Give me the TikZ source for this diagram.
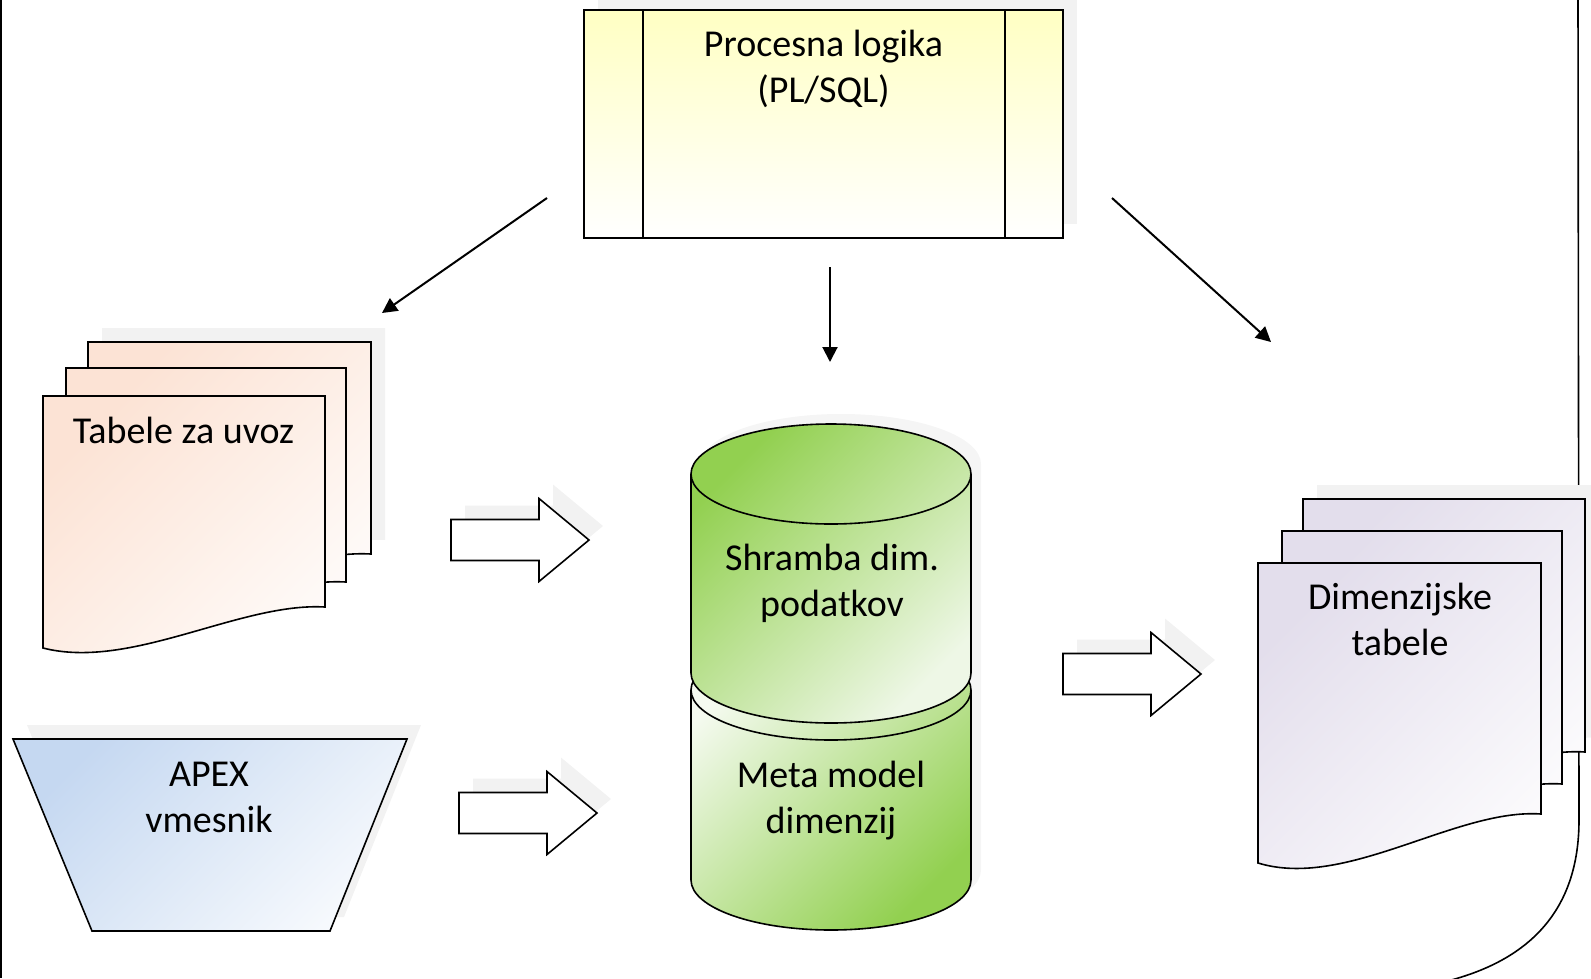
\documentclass[tikz,border=0pt]{standalone}
\usepackage{fontspec}
\setmainfont{Carlito}
\usetikzlibrary{arrows.meta,shadows}

\definecolor{procyellow}{RGB}{255,255,195}
\definecolor{tabpeach}{RGB}{252,227,213}
\definecolor{dimlavender}{RGB}{227,222,236}
\definecolor{apexblue}{RGB}{197,216,241}
\definecolor{dbgreen}{RGB}{146,208,80}
\definecolor{dbpale}{RGB}{238,247,230}

\tikzset{
  outline/.style={draw=black,line width=1.6pt},
  softshadow/.style={drop shadow={shadow xshift=14pt,shadow yshift=14pt,fill=black!5,opacity=1}},
  boxtext/.style={align=center,inner sep=0pt,font=\fontsize{38}{46}\selectfont},
  flow/.style={-{Triangle[length=15pt,width=15pt]},line width=2pt},
  tabfill/.style={top color=tabpeach,bottom color=tabpeach!20,shading angle=45},
  dimfill/.style={top color=dimlavender,bottom color=dimlavender!15,shading angle=45},
  blockarrow/.pic={
    \draw[outline,softshadow,fill=white] (0,-20.5) -- (88,-20.5) -- (88,-41.5) -- (138,0)
      -- (88,41.5) -- (88,20.5) -- (0,20.5) -- cycle;
  }
}

% one page of a stack: style, left, top, right, bottom right, drop of the wave
\newcommand{\docpage}[6]{%
  \draw[#1] (#2,#3) -- (#4,#3) -- (#4,#5)
    .. controls ({#4-85},{#5-0.12*#6}) and ({#2+88},{#5+1.55*#6}) .. (#2,{#5+#6}) -- cycle;}

\begin{document}
\begin{tikzpicture}[x=1pt,y=-1pt]
\useasboundingbox (0,0) rectangle (1591,978);

% frame
\draw[line width=1.6pt] (1,0) -- (1,978);
\draw[line width=1.6pt] (1578,0) -- (1579,820) .. controls (1579,910) and (1530,965) .. (1430,985);

% process logic
\node[outline,softshadow,top color=procyellow,bottom color=white,
      minimum width=479pt,minimum height=228pt] (proc) at (823.5,124) {};
\draw[line width=1.6pt] ([xshift=60pt]proc.north west) -- ([xshift=60pt]proc.south west);
\draw[line width=1.6pt] ([xshift=-59pt]proc.north east) -- ([xshift=-59pt]proc.south east);
\node[boxtext] (proctext) at (823.5,69) {Procesna logika\\(PL/SQL)};

% import tables
\docpage{outline,softshadow,tabfill}{88}{342}{371}{554}{41}
\docpage{outline,tabfill}{66}{368}{346}{582}{41}
\docpage{outline,tabfill}{43}{396}{325}{607}{41}
\node[boxtext] (tabele) at (183.5,430) {Tabele za uvoz};

% APEX
\draw[outline,softshadow,top color=apexblue,bottom color=apexblue!15,shading angle=45]
  (13,739) -- (407,739) -- (330,931) -- (92,931) -- cycle;
\node[boxtext] (apex) at (209,797) {APEX\\vmesnik};

% database
\begin{scope}[xshift=10pt,yshift=10pt]
  \fill[black!4] (691,474) -- (691,880) arc[start angle=180,end angle=0,x radius=140,y radius=50]
    -- (971,474) arc[start angle=0,end angle=-180,x radius=140,y radius=50] -- cycle;
\end{scope}
\draw[outline,top color=dbpale!60,bottom color=dbgreen,shading angle=45]
  (691,690) -- (691,880) arc[start angle=180,end angle=0,x radius=140,y radius=50]
  -- (971,690) arc[start angle=0,end angle=-180,x radius=140,y radius=50] -- cycle;
\draw[outline] (691,690) arc[start angle=180,end angle=0,x radius=140,y radius=50];
\draw[outline,top color=dbgreen,bottom color=dbpale,shading angle=45]
  (691,474) -- (691,673) arc[start angle=180,end angle=0,x radius=140,y radius=50]
  -- (971,474) arc[start angle=0,end angle=-180,x radius=140,y radius=50] -- cycle;
\draw[outline] (691,474) arc[start angle=180,end angle=0,x radius=140,y radius=50];
\node[boxtext] (shramba) at (832,583) {Shramba dim.\\podatkov};
\node[boxtext] (meta) at (831,801) {Meta model\\dimenzij};

% dimension tables
\docpage{outline,softshadow,dimfill}{1303}{499}{1585}{752}{49}
\docpage{outline,dimfill}{1282}{531}{1562}{784}{49}
\docpage{outline,dimfill}{1258}{563}{1541}{814}{49}
\node[boxtext] (dimtab) at (1400,619) {Dimenzijske\\tabele};

% block arrows
\pic at (451,540) {blockarrow};
\pic at (459,813) {blockarrow};
\pic at (1063,674) {blockarrow};

% arrows from the process
\coordinate (toTabS) at (547,198);
\coordinate (toTabE) at (382,313);
\coordinate (toDbS) at (830,267);
\coordinate (toDbE) at (830,362);
\coordinate (toDimS) at (1112,198);
\coordinate (toDimE) at (1271,342);
\draw[flow] (toTabS) -- (toTabE);
\draw[flow] (toDbS) -- (toDbE);
\draw[flow] (toDimS) -- (toDimE);
\end{tikzpicture}
\end{document}
